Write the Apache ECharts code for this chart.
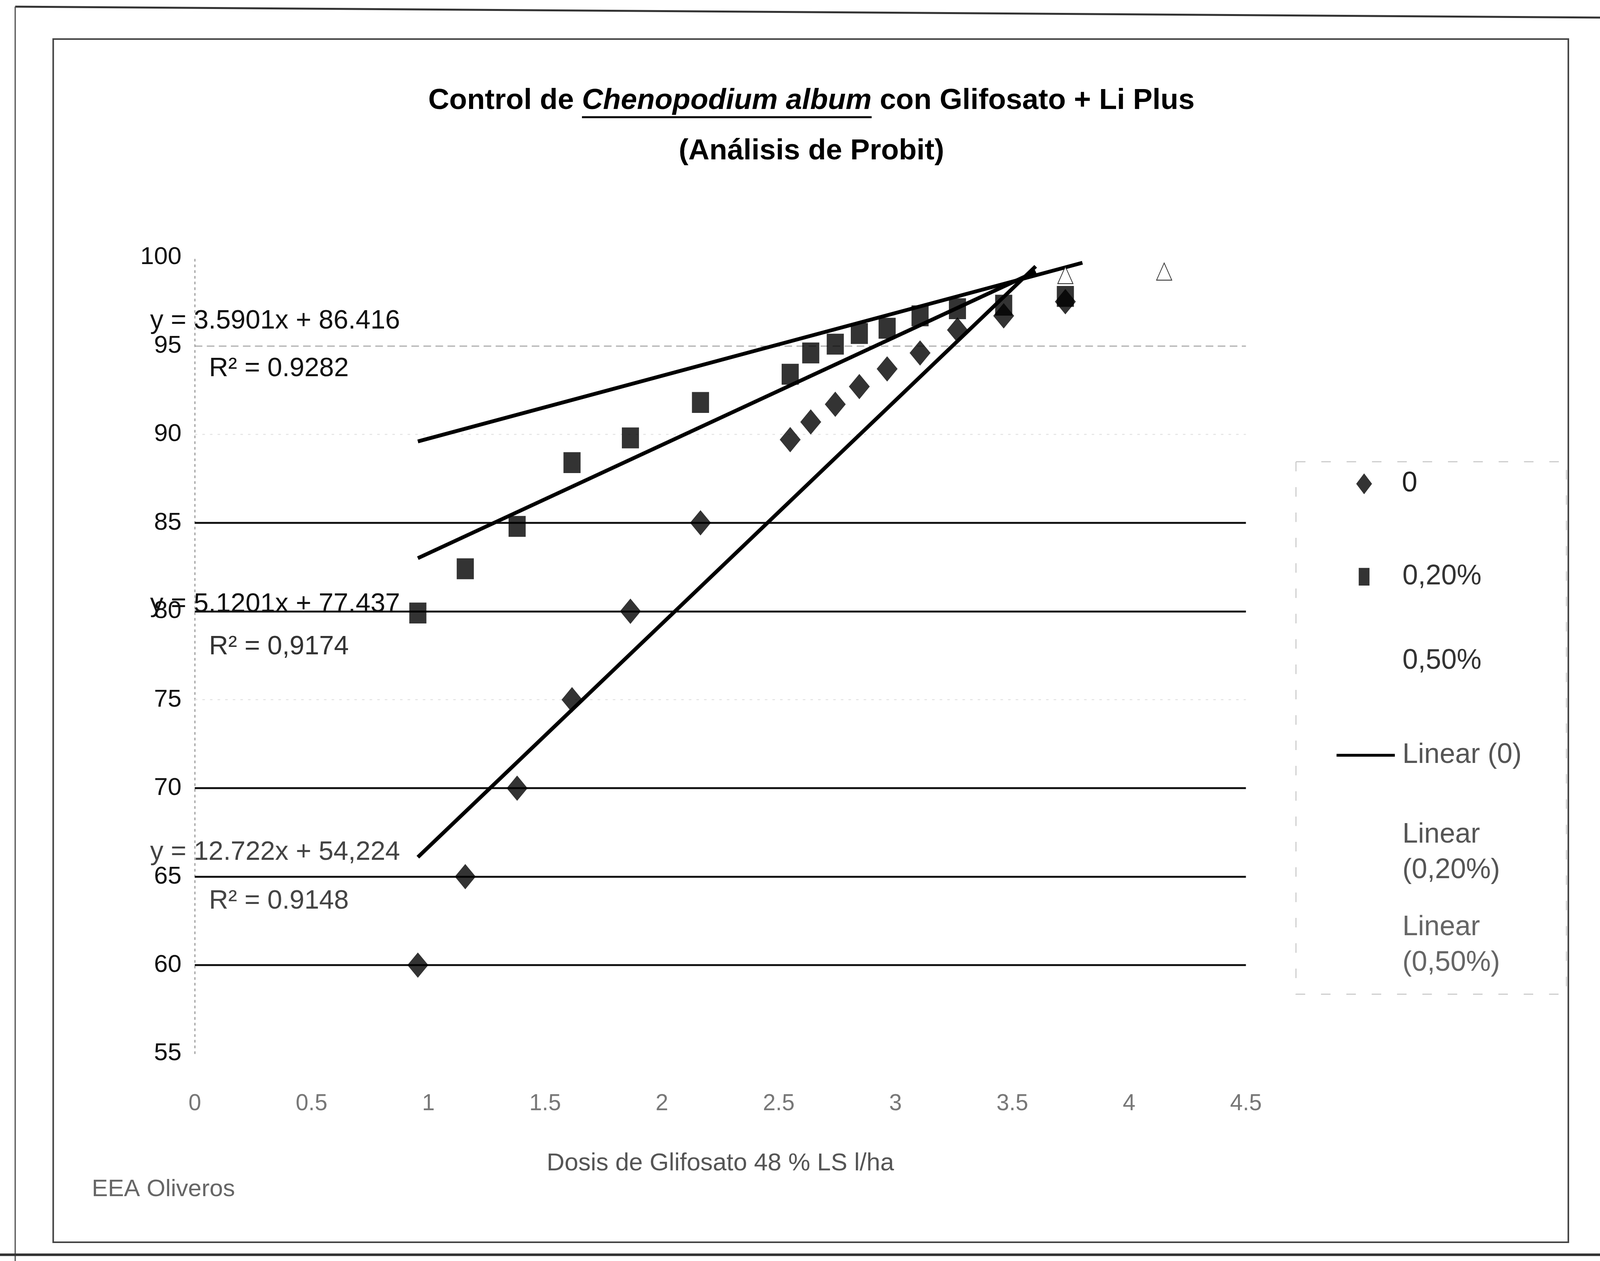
<!DOCTYPE html>
<html>
<head>
<meta charset="utf-8">
<script src="https://cdn.jsdelivr.net/npm/echarts@6/dist/echarts.min.js"></script>
<style>html,body{margin:0;padding:0;background:#fff;overflow:hidden}#c{width:100vw;height:100vh}</style>
</head>
<body>
<div id="c"></div>
<script>
// ---- data ----
const doses = [0.955, 1.158, 1.38, 1.615, 1.865, 2.165, 2.549, 2.637, 2.742, 2.845, 2.964, 3.105, 3.265, 3.463, 3.727];
const ctrl0 = [60, 65, 70, 75, 80, 85, 89.7, 90.7, 91.7, 92.7, 93.7, 94.6, 95.9, 96.7, 97.5];
const ctrl020 = [79.9, 82.4, 84.8, 88.4, 89.8, 91.8, 93.4, 94.6, 95.1, 95.7, 96.0, 96.7, 97.1, 97.3, 97.8];
const doses050 = [3.727, 4.15];
const ctrl050 = [99.0, 99.2];
const trend0 = [[0.955, 66.1], [3.6, 99.5]];
const trend020 = [[0.955, 83.0], [3.6, 99.2]];
const trend050 = [[0.955, 89.6], [3.8, 99.7]];
const gridDark = [60, 65, 70, 80, 85];
const gridLight = [95];
const gridFaint = [75, 90];
const seriesNames = ['0', '0,20%', '0,50%', 'Linear (0)', 'Linear\n(0,20%)', 'Linear\n(0,50%)'];
const equations = ['y = 3.5901x + 86.416', 'R² = 0.9282', 'y = 5.1201x + 77.437', 'R² = 0,9174', 'y = 12.722x + 54,224', 'R² = 0.9148'];
const titleParts = ['Control de ', 'Chenopodium album', ' con Glifosato + Li Plus'];
const subTitle = '(Análisis de Probit)';
const xTitle = 'Dosis de Glifosato 48 % LS l/ha';
const footer = 'EEA Oliveros';

const F = '"Liberation Sans", Arial, sans-serif';
const zip = (xs, ys) => xs.map((x, i) => [x, ys[i]]);

const el = document.getElementById('c');
const chart = echarts.init(el, null, {renderer: 'canvas'});
const W = chart.getWidth(), H = chart.getHeight();
const sx = W / 5052, sy = H / 3228, s = Math.min(sx, sy);
const X = v => v * sx, Y = v => v * sy, S = v => v * s;

// measure title pieces so the underline sits under the italic part
const tFont = S(92);
const mctx = document.createElement('canvas').getContext('2d');
const measure = (txt, italic) => { mctx.font = (italic ? 'italic ' : '') + 'bold ' + tFont + 'px ' + F; return mctx.measureText(txt).width; };
const w0 = measure(titleParts[0], false), w1 = measure(titleParts[1], true), w2 = measure(titleParts[2], false);
const tStart = X(2562) - (w0 + w1 + w2) / 2;

const markLineData = [].concat(
  gridDark.map(v => ({yAxis: v, lineStyle: {color: '#151515', width: S(6), type: 'solid'}})),
  gridLight.map(v => ({yAxis: v, lineStyle: {color: '#a0a0a0', width: S(3), type: [S(24), S(14)]}})),
  gridFaint.map(v => ({yAxis: v, lineStyle: {color: '#e2e2e2', width: S(3), type: [S(8), S(16)]}}))
);

const legendBase = {orient: 'vertical', selectedMode: false, itemGap: 0};
const legendText = (c, pad) => ({fontFamily: F, fontSize: S(88), color: c, padding: [0, 0, 0, S(pad)], lineHeight: S(112)});

const option = {
  backgroundColor: '#ffffff',
  animation: false,
  grid: {left: X(615), right: X(1118), top: Y(659), bottom: Y(531), containLabel: false},
  xAxis: {
    type: 'value', min: 0, max: 4.5, interval: 0.5,
    axisLine: {show: false}, axisTick: {show: false}, splitLine: {show: false},
    axisLabel: {fontFamily: F, fontSize: S(72), color: '#777', margin: Y(100)},
    name: xTitle, nameLocation: 'middle', nameGap: Y(250),
    nameTextStyle: {fontFamily: F, fontSize: S(78), color: '#555'}
  },
  yAxis: {
    type: 'value', min: 55, max: 100, interval: 5,
    axisLine: {show: true, lineStyle: {color: '#8a8a8a', width: S(3), type: [S(6), S(12)]}},
    axisTick: {show: false}, splitLine: {show: false},
    axisLabel: {fontFamily: F, fontSize: S(78), color: '#111', margin: X(42)}
  },
  legend: [
    Object.assign({}, legendBase, {data: [{name: seriesNames[0], icon: 'diamond'}], left: X(4276), top: Y(1188), itemWidth: S(50), itemHeight: S(66), textStyle: legendText('#222', 88)}),
    Object.assign({}, legendBase, {data: [{name: seriesNames[1], icon: 'rect'}], left: X(4284), top: Y(1426), itemWidth: S(34), itemHeight: S(56), textStyle: legendText('#333', 98)}),
    Object.assign({}, legendBase, {data: [{name: seriesNames[2], icon: 'none'}], left: X(4406), top: Y(1642), itemWidth: S(10), itemHeight: S(10), textStyle: legendText('#333', 0)}),
    Object.assign({}, legendBase, {data: [{name: seriesNames[3], icon: 'rect'}], left: X(4214), top: Y(1883), itemWidth: S(184), itemHeight: S(9), textStyle: legendText('#555', 18)}),
    Object.assign({}, legendBase, {data: [{name: seriesNames[4], icon: 'none'}], left: X(4406), top: Y(2087), itemWidth: S(10), itemHeight: S(10), textStyle: legendText('#555', 0)}),
    Object.assign({}, legendBase, {data: [{name: seriesNames[5], icon: 'none'}], left: X(4406), top: Y(2324), itemWidth: S(10), itemHeight: S(10), textStyle: legendText('#666', 0)})
  ],
  series: [
    {name: seriesNames[3], type: 'line', data: trend0, showSymbol: false, symbol: 'none',
      lineStyle: {color: '#000', width: S(12)}, itemStyle: {color: '#000'}, z: 3},
    {name: seriesNames[4], type: 'line', data: trend020, showSymbol: false, symbol: 'none',
      lineStyle: {color: '#000', width: S(12)}, itemStyle: {color: '#000'}, z: 3},
    {name: seriesNames[5], type: 'line', data: trend050, showSymbol: false, symbol: 'none',
      lineStyle: {color: '#000', width: S(12)}, itemStyle: {color: '#000'}, z: 3},
    {name: seriesNames[0], type: 'scatter', data: zip(doses, ctrl0), symbol: 'diamond', symbolSize: [S(66), S(80)],
      itemStyle: {color: '#000'}, z: 5,
      markLine: {silent: true, symbol: ['none', 'none'], label: {show: false}, data: markLineData, z: 1}},
    {name: seriesNames[1], type: 'scatter', data: zip(doses, ctrl020), symbol: 'rect', symbolSize: [S(54), S(66)],
      itemStyle: {color: '#000'}, z: 5},
    {name: seriesNames[2], type: 'scatter', data: zip(doses050, ctrl050), symbol: 'emptyTriangle', symbolSize: [S(48), S(54)],
      itemStyle: {color: '#000', borderColor: '#000', borderWidth: S(10)}, z: 5}
  ],
  graphic: [
    {type: 'line', shape: {x1: X(48), y1: Y(17), x2: X(5052), y2: Y(45)}, style: {stroke: '#333', lineWidth: S(6)}},
    {type: 'line', shape: {x1: X(48), y1: Y(17), x2: X(48), y2: Y(3228)}, style: {stroke: '#555', lineWidth: S(4)}},
    {type: 'line', shape: {x1: 0, y1: Y(3212), x2: X(5052), y2: Y(3212)}, style: {stroke: '#333', lineWidth: S(8)}},
    {type: 'rect', shape: {x: X(168), y: Y(100), width: X(4784), height: Y(3080)}, style: {fill: 'none', stroke: '#444', lineWidth: S(5)}},
    {type: 'rect', shape: {x: X(4092), y: Y(1182), width: X(854), height: Y(1363)}, style: {fill: 'none', stroke: '#c4c4c4', lineWidth: S(3), lineDash: [S(30), S(50)]}},
    {type: 'text', x: tStart, y: Y(258), style: {text: titleParts[0], fontFamily: F, fontSize: tFont, fontWeight: 'bold', fill: '#000', verticalAlign: 'middle'}},
    {type: 'text', x: tStart + w0, y: Y(258), style: {text: titleParts[1], fontFamily: F, fontSize: tFont, fontWeight: 'bold', fontStyle: 'italic', fill: '#000', verticalAlign: 'middle'}},
    {type: 'text', x: tStart + w0 + w1, y: Y(258), style: {text: titleParts[2], fontFamily: F, fontSize: tFont, fontWeight: 'bold', fill: '#000', verticalAlign: 'middle'}},
    {type: 'line', shape: {x1: tStart + w0, y1: Y(300), x2: tStart + w0 + w1, y2: Y(300)}, style: {stroke: '#000', lineWidth: S(6)}},
    {type: 'text', x: X(2562), y: Y(387), style: {text: subTitle, fontFamily: F, fontSize: tFont, fontWeight: 'bold', fill: '#000', align: 'center', verticalAlign: 'middle'}},
    {type: 'text', x: X(474), y: Y(822), style: {text: equations[0], fontFamily: F, fontSize: S(84), fill: '#111', verticalAlign: 'middle'}},
    {type: 'text', x: X(660), y: Y(944), style: {text: equations[1], fontFamily: F, fontSize: S(84), fill: '#111', verticalAlign: 'middle'}},
    {type: 'text', x: X(474), y: Y(1547), style: {text: equations[2], fontFamily: F, fontSize: S(84), fill: '#111', verticalAlign: 'middle'}},
    {type: 'text', x: X(660), y: Y(1656), style: {text: equations[3], fontFamily: F, fontSize: S(84), fill: '#333', verticalAlign: 'middle'}},
    {type: 'text', x: X(474), y: Y(2182), style: {text: equations[4], fontFamily: F, fontSize: S(84), fill: '#444', verticalAlign: 'middle'}},
    {type: 'text', x: X(660), y: Y(2307), style: {text: equations[5], fontFamily: F, fontSize: S(84), fill: '#444', verticalAlign: 'middle'}},
    {type: 'text', x: X(290), y: Y(3045), style: {text: footer, fontFamily: F, fontSize: S(76), fill: '#666', verticalAlign: 'middle'}}
  ]
};
chart.setOption(option);
</script>
</body>
</html>
